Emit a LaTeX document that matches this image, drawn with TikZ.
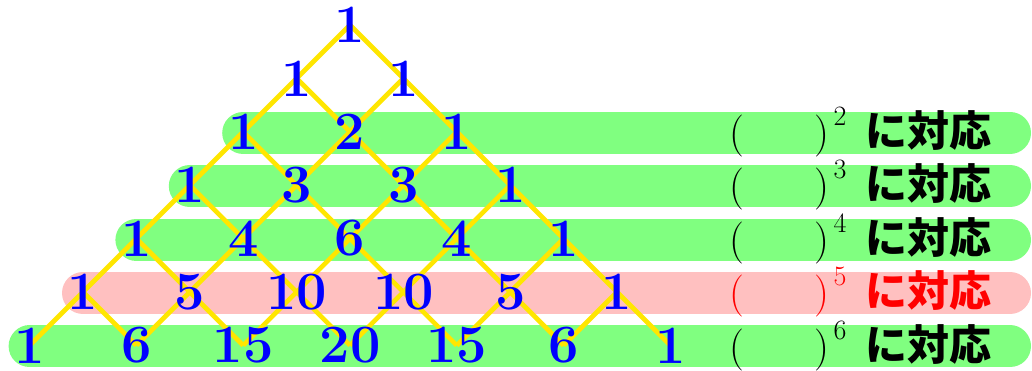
\documentclass[tikz,border=0pt]{standalone}
\usepackage{fontspec}
\newfontfamily\jpfont{Noto Sans CJK JP}

\pgfdeclarelayer{bars}
\pgfdeclarelayer{lattice}
\pgfsetlayers{bars,lattice,main}

\definecolor{barGreen}{RGB}{128,255,128}
\definecolor{barPink}{RGB}{255,192,192}
\definecolor{latticeYellow}{RGB}{255,230,0}

\newcommand{\px}[2]{350+(2*#2-#1)*53.4}
\newcommand{\py}[1]{25+53.4*#1}
% power label: ( )^n followed by the Japanese word
\newcommand{\powtag}[1]{(\hspace{1.68em})\kern4pt\raisebox{21pt}{\fontsize{28}{30}\selectfont #1}\hspace{19pt}{\jpfont\fontsize{42}{48}\selectfont\bfseries に対応}}

\begin{document}
\begin{tikzpicture}[x=1pt,y=-1pt,
  entry/.style={inner sep=0pt, text=blue, font=\fontsize{54}{60}\selectfont\bfseries},
  rowbar/.style={line width=42pt, line cap=round},
  edge/.style={draw=latticeYellow, line width=4.7pt},
  tag/.style={anchor=base west, inner sep=0pt, font=\fontsize{42}{48}\selectfont}]
\useasboundingbox (0,0) rectangle (1032,371);

% Pascal's triangle entries
\foreach \v [count=\k from 0] in {1}
  \node[entry] (n0\k) at ({\px{0}{\k}},{\py{0}}) {\v};
\foreach \v [count=\k from 0] in {1,1}
  \node[entry] (n1\k) at ({\px{1}{\k}},{\py{1}}) {\v};
\foreach \v [count=\k from 0] in {1,2,1}
  \node[entry] (n2\k) at ({\px{2}{\k}},{\py{2}}) {\v};
\foreach \v [count=\k from 0] in {1,3,3,1}
  \node[entry] (n3\k) at ({\px{3}{\k}},{\py{3}}) {\v};
\foreach \v [count=\k from 0] in {1,4,6,4,1}
  \node[entry] (n4\k) at ({\px{4}{\k}},{\py{4}}) {\v};
\foreach \v [count=\k from 0] in {1,5,10,10,5,1}
  \node[entry] (n5\k) at ({\px{5}{\k}},{\py{5}}) {\v};
\foreach \v [count=\k from 0] in {1,6,15,20,15,6,1}
  \node[entry] (n6\k) at ({\px{6}{\k}},{\py{6}}) {\v};

% labels on the right
\foreach \r in {2,3,4,6}
  \node[tag] (t\r) at (729,{\py{\r}+14.7}) {\powtag{\r}};
\node[tag, text=red] (t5) at (729,{\py{5}+14.7}) {\powtag{5}};

\coordinate (barend) at (1010,0);

% coloured row bands
\begin{pgfonlayer}{bars}
  \foreach \r/\c in {2/barGreen,3/barGreen,4/barGreen,5/barPink,6/barGreen}
    \draw[rowbar, draw=\c] ([yshift=-1pt]n\r0.center) -- ([yshift=-1pt]n\r0.center -| barend);
\end{pgfonlayer}

% lattice joining each entry to the two below it
\begin{pgfonlayer}{lattice}
  \foreach \r in {0,...,5} {
    \pgfmathtruncatemacro\nr{\r+1}
    \foreach \k in {0,...,\r} {
      \pgfmathtruncatemacro\kk{\k+1}
      \draw[edge] (n\r\k.center) -- (n\nr\k.center);
      \draw[edge] (n\r\k.center) -- (n\nr\kk.center);
    }
  }
\end{pgfonlayer}
\end{tikzpicture}
\end{document}
